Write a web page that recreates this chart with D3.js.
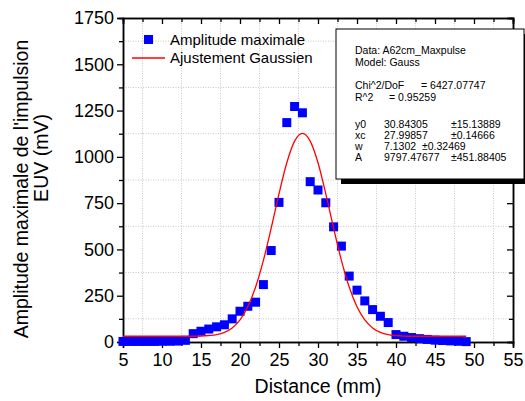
<!DOCTYPE html>
<html>
<head>
<meta charset="utf-8">
<script src="https://cdn.jsdelivr.net/npm/d3@7"></script>
<style>
  body { margin: 0; background: #fff; }
  svg { display: block; font-family: "Liberation Sans", Arial, Helvetica, sans-serif; }
</style>
</head>
<body>
<div class="canvas"></div>
<script>
// measured points (distance in mm, amplitude in mV)
const distance = [5,6,7,8,9,10,11,12,13,14,15,16,17,18,19,20,21,22,23,24,25,26,27,28,29,30,31,32,33,34,35,36,37,38,39,40,41,42,43,44,45,46,47,48,49];
const amplitude = [3,3,3,3,3,4,4,5,9,45,58,70,82,93,125,166,193,215,310,494,754,1185,1272,1238,866,821,752,622,518,356,280,222,175,139,105,40,31,24,18,14,10,8,6,4,2];
// gaussian fit curve
const fitX = [5,6,7,8,9,10,11,12,13,14,15,16,17,18,19,20,21,22,23,24,25,26,27,28,29,30,31,32,33,34,35,36,37,38,39,40,41,42,43,44,45,46,47,48,49];
const fitY = [31,31,31,31,31,31,31,31,31,31,32,35,40,52,76,119,190,297,441,615,800,968,1085,1127,1085,968,800,615,441,297,190,119,76,52,40,35,32,31,31,31,31,31,31,31,31];
const xTicks = [5,10,15,20,25,30,35,40,45,50,55];
const yTicks = [0,250,500,750,1000,1250,1500,1750];
const infoLines = [
  ['Data: A62cm_Maxpulse'],
  ['Model: Gauss'],
  [],
  ['Chi^2/DoF', '= 6427.07747'],
  ['R^2', '= 0.95259'],
  [],
  ['y0', '30.84305', '±15.13889'],
  ['xc', '27.99857', '±0.14666'],
  ['w', '7.1302  ±0.32469'],
  ['A', '9797.47677', '±451.88405']
];

const width = 525, height = 401;
const margin = {top: 18, right: 12, bottom: 59, left: 123};
const graphWidth = width - margin.left - margin.right;
const graphHeight = height - margin.top - margin.bottom;

const svg = d3.select('.canvas')
  .append('svg')
    .attr('width', width)
    .attr('height', height);

const graph = svg.append('g')
  .attr('transform', `translate(${margin.left}, ${margin.top})`);

const x = d3.scaleLinear().domain([5, 55]).range([0, graphWidth]);
const y = d3.scaleLinear().domain([0, 1750]).range([graphHeight, 0]);

//grid on minor ticks
const xGrid = d3.range(7.5, 55, 5);
const yGrid = d3.range(125, 1750, 250);
graph.append('g').selectAll('line')
  .data(xGrid).enter().append('line')
    .attr('x1', d => x(d)).attr('x2', d => x(d))
    .attr('y1', 0).attr('y2', graphHeight)
    .attr('stroke', '#c8c8c8').attr('stroke-dasharray', '1,1.5');
graph.append('g').selectAll('line')
  .data(yGrid).enter().append('line')
    .attr('x1', 0).attr('x2', graphWidth)
    .attr('y1', d => y(d)).attr('y2', d => y(d))
    .attr('stroke', '#c8c8c8').attr('stroke-dasharray', '1,1.5');

//axes
const xAxis = d3.axisBottom(x).tickValues(xTicks).tickSize(6).tickPadding(5).tickFormat(d3.format('d'));
const yAxis = d3.axisLeft(y).tickValues(yTicks).tickSize(6).tickPadding(3).tickFormat(d3.format('d'));
const xMinor = d3.axisBottom(x).tickValues(xGrid).tickSize(4).tickFormat('');
const yMinor = d3.axisLeft(y).tickValues(yGrid).tickSize(4).tickFormat('');
const xTop = d3.axisTop(x).tickValues(xTicks).tickSize(-6).tickFormat('');
const xTopMinor = d3.axisTop(x).tickValues(xGrid).tickSize(-4).tickFormat('');
const yRight = d3.axisRight(y).tickValues(yTicks).tickSize(-6).tickFormat('');
const yRightMinor = d3.axisRight(y).tickValues(yGrid).tickSize(-4).tickFormat('');

const axisGroups = [
  [xAxis, `translate(0, ${graphHeight})`],
  [xMinor, `translate(0, ${graphHeight})`],
  [yAxis, 'translate(0, 0)'],
  [yMinor, 'translate(0, 0)'],
  [xTop, 'translate(0, 0)'],
  [xTopMinor, 'translate(0, 0)'],
  [yRight, `translate(${graphWidth}, 0)`],
  [yRightMinor, `translate(${graphWidth}, 0)`]
];
axisGroups.forEach(([ax, tr]) => {
  const g = graph.append('g').attr('transform', tr).call(ax);
  g.select('.domain').attr('stroke', '#000').attr('stroke-width', 1.5);
  g.selectAll('.tick line').attr('stroke', '#000').attr('stroke-width', 1.3);
  g.selectAll('.tick text').attr('fill', '#000').attr('font-size', 18).attr('font-family', null);
});

//scatter
graph.append('g').selectAll('rect')
  .data(distance.map((d, i) => [d, amplitude[i]]))
  .enter().append('rect')
    .attr('x', d => x(d[0]) - 4.5)
    .attr('y', d => y(d[1]) - 4.5)
    .attr('width', 9).attr('height', 9)
    .attr('fill', '#0000ff');

//fit curve
const line = d3.line()
  .x(d => x(d[0]))
  .y(d => y(d[1]))
  .curve(d3.curveMonotoneX);
graph.append('path')
  .datum(fitX.map((d, i) => [d, fitY[i]]))
  .attr('d', line)
  .attr('fill', 'none')
  .attr('stroke', '#ff0000')
  .attr('stroke-width', 1.3);

//legend
const legend = svg.append('g');
legend.append('rect')
  .attr('x', 144).attr('y', 35).attr('width', 9).attr('height', 9)
  .attr('fill', '#0000ff');
legend.append('line')
  .attr('x1', 132).attr('x2', 165).attr('y1', 58).attr('y2', 58)
  .attr('stroke', '#ff0000').attr('stroke-width', 1.5);
legend.append('text').attr('x', 170).attr('y', 45).attr('font-size', 15).text('Amplitude maximale');
legend.append('text').attr('x', 170).attr('y', 63).attr('font-size', 15).text('Ajustement Gaussien');

//info box
const box = svg.append('g');
box.append('rect')
  .attr('x', 341).attr('y', 34).attr('width', 190).attr('height', 150)
  .attr('fill', '#000');
box.append('rect')
  .attr('x', 336).attr('y', 29).attr('width', 188).attr('height', 150)
  .attr('fill', '#fff').attr('stroke', '#000').attr('stroke-width', 1);
const colX = {
  'Chi^2/DoF': [355, 421],
  'R^2': [355, 389],
  'w': [355, 384]
};
const lineY = [54, 66, 0, 89, 101, 0, 128, 139, 150, 161];
infoLines.forEach((row, i) => {
  const xs = colX[row[0]] || [355, 384, 451];
  row.forEach((t, j) => {
    box.append('text')
      .attr('x', xs[j]).attr('y', lineY[i])
      .attr('font-size', 10.5)
      .style('white-space', 'pre')
      .text(t);
  });
});

//axis titles
svg.append('text')
  .attr('x', margin.left + graphWidth / 2).attr('y', 393)
  .attr('text-anchor', 'middle').attr('font-size', 19.5)
  .text('Distance (mm)');
svg.append('text')
  .attr('transform', 'translate(28, 189) rotate(-90)')
  .attr('text-anchor', 'middle').attr('font-size', 19.5)
  .text("Amplitude maximale de l'impulsion");
svg.append('text')
  .attr('transform', 'translate(48, 158) rotate(-90)')
  .attr('text-anchor', 'middle').attr('font-size', 19.5)
  .text('EUV (mV)');
</script>
</body>
</html>
